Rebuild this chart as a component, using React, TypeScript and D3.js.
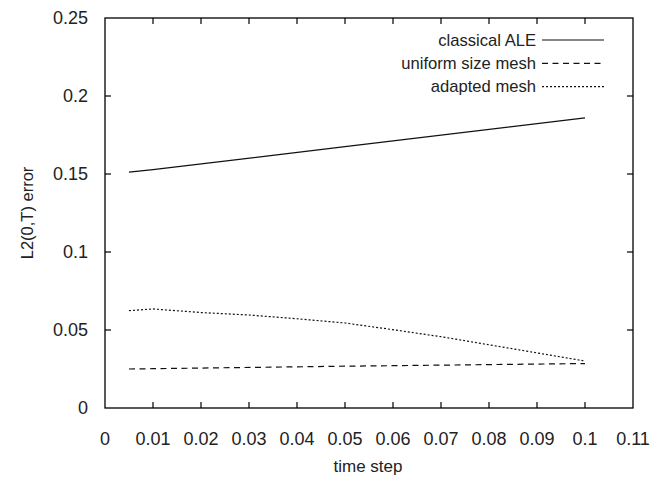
import React from "react";
import * as d3 from "d3";

const xTicks = [0, 0.01, 0.02, 0.03, 0.04, 0.05, 0.06, 0.07, 0.08, 0.09, 0.1, 0.11];
const yTicks = [0, 0.05, 0.1, 0.15, 0.2, 0.25];

const classicalX = [0.005, 0.01, 0.05, 0.1];
const classicalY = [0.1512, 0.1528, 0.1675, 0.186];

const uniformX = [0.005, 0.01, 0.05, 0.1];
const uniformY = [0.025, 0.0252, 0.0268, 0.0285];

const adaptedX = [0.005, 0.01, 0.02, 0.03, 0.04, 0.05, 0.06, 0.07, 0.08, 0.09, 0.1];
const adaptedY = [0.0624, 0.0635, 0.0612, 0.0596, 0.0572, 0.0545, 0.0502, 0.0457, 0.0405, 0.0353, 0.0301];

const seriesNames = ["classical ALE", "uniform size mesh", "adapted mesh"];
const seriesDash = ["none", "6,4.5", "2,2"];

export default function App() {
  const W = 652, H = 477;
  const left = 105, right = 633, top = 18, bottom = 408;
  const x = d3.scaleLinear().domain([0, 0.11]).range([left, right]);
  const y = d3.scaleLinear().domain([0, 0.25]).range([bottom, top]);
  const line = d3.line<[number, number]>().x(d => x(d[0])).y(d => y(d[1]));
  const series = [
    classicalX.map((v, i) => [v, classicalY[i]] as [number, number]),
    uniformX.map((v, i) => [v, uniformY[i]] as [number, number]),
    adaptedX.map((v, i) => [v, adaptedY[i]] as [number, number]),
  ];
  const tl = 6;
  const font = "Liberation Sans, Arial, sans-serif";
  return (
    <svg width={W} height={H} style={{ position: "absolute", left: 0, top: 0, background: "#fff" }}
      fontFamily={font} fontSize={18}>
      <rect x={0} y={0} width={W} height={H} fill="#fff" />
      {xTicks.map((t, i) => (
        <g key={"x" + i}>
          {i > 0 && i < xTicks.length - 1 && (
            <>
              <line x1={x(t)} x2={x(t)} y1={bottom} y2={bottom - tl} stroke="#000" strokeWidth={1.2} />
              <line x1={x(t)} x2={x(t)} y1={top} y2={top + tl} stroke="#000" strokeWidth={1.2} />
            </>
          )}
          <text x={x(t)} y={bottom + 31} dy="0.35em" textAnchor="middle" fill="#222">{String(t)}</text>
        </g>
      ))}
      {yTicks.map((t, i) => (
        <g key={"y" + i}>
          {i > 0 && i < yTicks.length - 1 && (
            <>
              <line x1={left} x2={left + tl} y1={y(t)} y2={y(t)} stroke="#000" strokeWidth={1.2} />
              <line x1={right} x2={right - tl} y1={y(t)} y2={y(t)} stroke="#000" strokeWidth={1.2} />
            </>
          )}
          <text x={88} y={y(t)} dy="0.35em" textAnchor="end" fill="#222">{String(t)}</text>
        </g>
      ))}
      <rect x={left} y={top} width={right - left} height={bottom - top} fill="none" stroke="#000" strokeWidth={1.3} />
      {series.map((s, i) => (
        <path key={"s" + i} d={line(s) || ""} fill="none" stroke="#111" strokeWidth={1.2}
          strokeDasharray={seriesDash[i] === "none" ? undefined : seriesDash[i]} />
      ))}
      {seriesNames.map((n, i) => (
        <g key={"l" + i}>
          <text x={536} y={40 + i * 23.3} dy="0.35em" textAnchor="end" fill="#222" fontSize={16.6}>{n}</text>
          <line x1={542} x2={604} y1={40 + i * 23.3} y2={40 + i * 23.3} stroke="#111" strokeWidth={1.2}
            strokeDasharray={seriesDash[i] === "none" ? undefined : seriesDash[i]} />
        </g>
      ))}
      <text x={368} y={466} dy="0.35em" textAnchor="middle" fill="#222" fontSize={17}>time step</text>
      <text transform={`translate(27,${(top + bottom) / 2}) rotate(-90)`} dy="0.35em" textAnchor="middle" fill="#222" fontSize={16.5}>L2(0,T) error</text>
    </svg>
  );
}
